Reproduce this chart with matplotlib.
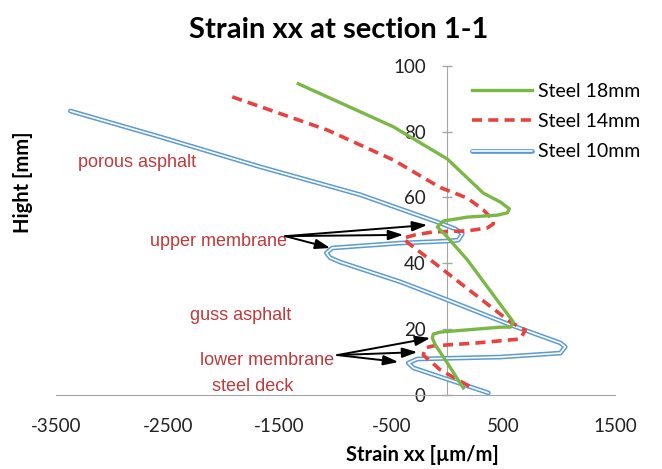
import matplotlib
matplotlib.use("Agg")
import matplotlib.pyplot as plt
import matplotlib.patheffects as pe

plt.rcParams["axes.unicode_minus"] = False

# =========================
# data (strain in um/m, height in mm)
# =========================
strain_18 = [-1333, -483, 0, 322, 474, 555, 537, 447, 179, -36, -89, -18,
             179, 590, 564, 474, -63, -125, -134, -107, 0, 143]
height_18 = [94.6, 81.5, 71.7, 61.3, 58.6, 56.5, 55.3, 54.6, 54.0, 52.8, 51.0, 48.6,
             41.0, 22.1, 20.5, 20.5, 19.0, 18.4, 17.2, 15.1, 9.6, 2.0]

strain_14 = [-1923, -1073, -483, -63, 179, 322, 411, 411, 358, 179, -125, -286,
             -394, -349, -304, -152, 564, 698, 653, 268, -125, -197, -215, -63, 224]
height_14 = [90.6, 80.5, 71.4, 63.0, 59.8, 56.2, 53.1, 51.9, 50.7, 49.8, 49.5, 48.6,
             47.6, 46.1, 44.9, 41.0, 22.1, 19.6, 16.9, 15.7, 14.8, 14.2, 12.0, 7.5, 2.0]

strain_10 = [-3372, -2567, -1673, -778, -89, 72, 134, 98, 0, -420, -1029, -1082,
             -1047, -957, -420, 0, 564, 1011, 1055, 1011, 474, -268, -349, -304, 367]
height_10 = [86.3, 78.4, 69.3, 60.8, 52.5, 50.4, 48.9, 47.0, 46.7, 46.1, 44.6, 43.1,
             41.6, 40.3, 34.3, 28.8, 21.2, 15.7, 14.5, 12.6, 11.4, 10.8, 9.6, 8.1, 0.5]

series_labels = ["Steel 18mm", "Steel 14mm", "Steel 10mm"]
layer_labels = ["porous asphalt", "upper membrane", "guss asphalt",
                "lower membrane", "steel deck"]

GREEN = "#7AB846"
RED = "#E8423F"
BLUE = "#5B9BD5"
LABEL_RED = "#C0393B"
AXIS_GRAY = "#A6A6A6"
CAL = "Lato"

# =========================
# figure
# =========================
fig = plt.figure(figsize=(6.62, 4.69), dpi=100)
ax = fig.add_axes([56 / 662, 74.5 / 469, 559 / 662, 328.5 / 469])

blue_line, = ax.plot(strain_10, height_10, color=BLUE, lw=3.4,
                     solid_capstyle="round", solid_joinstyle="round",
                     label=series_labels[2], zorder=3)
blue_line.set_path_effects([pe.Stroke(linewidth=3.4, foreground=BLUE),
                            pe.Stroke(linewidth=1.2, foreground="white")])
red_line, = ax.plot(strain_14, height_14, color=RED, lw=2.6,
                    linestyle=(0, (2.8, 1.7)), label=series_labels[1], zorder=4)
green_line, = ax.plot(strain_18, height_18, color=GREEN, lw=2.4,
                      solid_joinstyle="round", label=series_labels[0], zorder=5)

ax.set_xlim(-3500, 1500)
ax.set_ylim(0, 100)
ax.set_xticks(range(-3500, 1501, 1000))
ax.set_yticks(range(0, 101, 20))

for s in ["top", "right"]:
    ax.spines[s].set_visible(False)
ax.spines["left"].set_position(("data", 0))
ax.spines["left"].set_color(AXIS_GRAY)
ax.spines["bottom"].set_color(AXIS_GRAY)
ax.spines["left"].set_zorder(1)
ax.tick_params(axis="x", length=0, pad=17, labelsize=13.5, labelcolor="#222222")
ax.tick_params(axis="y", direction="inout", length=7, width=1, color=AXIS_GRAY,
               pad=12, labelsize=13.5, labelcolor="#222222")
for lab in ax.get_xticklabels() + ax.get_yticklabels():
    lab.set_family(CAL)

ax.set_xlabel("Strain xx [µm/m]", family=CAL, fontweight="bold", fontsize=14.5)
ax.xaxis.set_label_coords(0.655, -0.184)
ax.xaxis.label.set_va("center")
ax.set_ylabel("Hight [mm]", family=CAL, fontweight="bold", fontsize=14.5)
ax.yaxis.set_label_coords(-0.059, 0.647)
ax.yaxis.label.set_va("center")

fig.text(0.511, 1 - 30 / 469, "Strain xx at section 1-1", family=CAL,
         fontweight="bold", fontsize=21, ha="center", va="center")

leg = ax.legend(handles=[green_line, red_line, blue_line], loc="upper left",
                bbox_to_anchor=(472 / 662, 1 - 83 / 469), bbox_transform=fig.transFigure,
                frameon=False, fontsize=14, handlelength=3.1, handletextpad=0.3,
                labelspacing=0.68, borderpad=0, borderaxespad=0)
for t in leg.get_texts():
    t.set_family(CAL)

# layer names
txt = dict(family="Liberation Sans", color=LABEL_RED, fontsize=13,
           ha="center", va="center")
ax.text(-2775, 70.5, layer_labels[0], **txt)
ax.text(-2050, 46.6, layer_labels[1], **txt)
ax.text(-1850, 24.2, layer_labels[2], **txt)
ax.text(-1610, 10.5, layer_labels[3], **txt)
ax.text(-1745, 2.3, layer_labels[4], **txt)

arrow = dict(arrowstyle="-|>,head_length=0.9,head_width=0.3", color="black",
             lw=1.4, shrinkA=0, shrinkB=0)
for tip in [(-179, 51.6), (-394, 48.6), (-1047, 44.6)]:
    ax.annotate("", xy=tip, xytext=(-1449, 48.2), arrowprops=arrow, zorder=6)
for tip in [(-152, 17.2), (-268, 12.9), (-438, 9.9)]:
    ax.annotate("", xy=tip, xytext=(-984, 12.0), arrowprops=arrow, zorder=6)

fig.savefig("out.png", dpi=100)
